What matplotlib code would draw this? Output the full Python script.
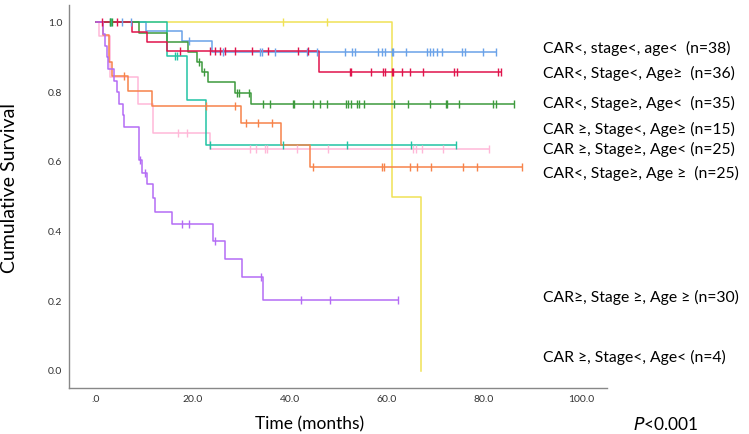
import numpy as np
import matplotlib.pyplot as plt

plt.rcParams['font.family'] = ['Lato', 'DejaVu Sans']

# cada grupo: tiempos donde baja la curva (meses), nivel despues de cada baja,
# tiempos censurados (marcas), y hasta donde llega la linea
azul_t = [10.3, 17.7, 24.0]
azul_s = [0.974, 0.947, 0.916]
azul_c = [5.3, 7.3, 19.2, 26.2, 33.8, 34.2, 36.9, 43.5, 45.5, 51.3, 52.7, 53.4,
          58.2, 58.9, 59.6, 61.0, 61.3, 63.9, 68.2, 68.9, 69.6, 70.3, 71.3,
          75.4, 76.1, 79.9, 82.6]

rojo_t = [7.4, 10.6, 14.7, 46.0]
rojo_s = [0.972, 0.944, 0.917, 0.859]
rojo_c = [1.3, 4.4, 17.3, 23.5, 24.5, 25.6, 26.6, 28.7, 32.1, 35.5, 41.7, 43.8,
          52.4, 52.6, 56.8, 59.1, 59.6, 61.0, 61.3, 63.2, 64.7, 67.4, 73.8,
          74.4, 82.9, 83.6]

verde_t = [8.9, 14.7, 18.9, 20.9, 21.8, 23.0, 28.7, 31.9]
verde_s = [0.971, 0.943, 0.914, 0.886, 0.857, 0.829, 0.798, 0.765]
verde_c = [2.9, 3.2, 21.2, 22.2, 29.0, 29.5, 31.5, 34.5, 35.9, 40.6, 40.8,
           44.8, 46.2, 47.6, 51.5, 52.0, 52.5, 53.9, 54.2, 55.3, 61.4, 64.4,
           68.9, 72.2, 72.4, 74.9, 81.9, 82.5, 86.3]

turq_t = [14.6, 18.7, 22.6]
turq_s = [0.904, 0.777, 0.648]
turq_c = [2.8, 3.1, 16.3, 16.8, 23.5, 38.5, 51.7, 64.9, 74.3]

rosa_t = [0.7, 2.9, 8.6, 11.7, 23.5]
rosa_s = [0.96, 0.844, 0.765, 0.683, 0.636]
rosa_c = [17.0, 18.7, 31.8, 33.1, 34.8, 35.2, 41.4, 47.9, 65.4, 66.1, 67.2,
          71.6, 81.1]

naranja_t = [1.4, 2.7, 3.4, 6.5, 11.6, 30.0, 38.2, 44.1]
naranja_s = [0.964, 0.886, 0.846, 0.804, 0.76, 0.712, 0.648, 0.584]
naranja_c = [5.8, 22.6, 28.7, 30.9, 33.5, 36.2, 44.8, 58.9, 59.4, 64.7, 66.2,
             69.0, 75.6, 78.6, 87.8]

violeta_t = [1.5, 1.8, 2.2, 2.5, 3.8, 4.3, 4.8, 5.5, 5.8, 8.9, 9.4, 10.6, 11.7,
             12.2, 15.7, 24.2, 26.6, 30.2, 34.5]
violeta_s = [0.967, 0.933, 0.9, 0.867, 0.833, 0.8, 0.767, 0.733, 0.70, 0.605,
             0.567, 0.535, 0.495, 0.456, 0.42, 0.373, 0.32, 0.268, 0.203]
violeta_c = [9.1, 10.1, 17.7, 19.1, 24.5, 34.0, 42.2, 48.2, 62.3]

amarillo_t = [61.0, 67.0]
amarillo_s = [0.5, 0.0]
amarillo_c = [38.5, 47.6]

etiquetas = ["CAR<, stage<, age<  (n=38)",
             "CAR<, Stage<, Age\u2265  (n=36)",
             "CAR<, Stage\u2265, Age<  (n=35)",
             "CAR \u2265, Stage<, Age\u2265 (n=15)",
             "CAR \u2265, Stage\u2265, Age< (n=25)",
             "CAR<, Stage\u2265, Age \u2265  (n=25)",
             "CAR\u2265, Stage \u2265, Age \u2265 (n=30)",
             "CAR \u2265, Stage<, Age< (n=4)"]
etiq_y = [48, 73, 103, 129, 149, 173, 297, 357]  # pixeles desde arriba

xticks = [0, 20, 40, 60, 80, 100]
xtick_lab = [".0", "20.0", "40.0", "60.0", "80.0", "100.0"]
yticks = [0.0, 0.2, 0.4, 0.6, 0.8, 1.0]


def curva(ax, t, s, c, color):
    fin = max(max(t), max(c))
    xs = [0] + t + [fin]
    ys = [1.0] + s + [s[-1]]
    ax.step(xs, ys, where='post', color=color, lw=1.1, zorder=2)
    idx = np.searchsorted(t, c, side='right')
    niveles = np.array([1.0] + s)[idx]
    ax.plot(c, niveles, ls='none', marker='|', ms=6, mew=1, color=color, zorder=3)


fig = plt.figure(figsize=(7.49, 4.34), dpi=100)
ax = fig.add_axes([69 / 749, 1 - 388.3 / 434, (607 - 69) / 749, (388.3 - 5) / 434])

curva(ax, rosa_t, rosa_s, rosa_c, "#ffb8d8")
curva(ax, amarillo_t, amarillo_s, amarillo_c, "#f0e256")
curva(ax, azul_t, azul_s, azul_c, "#6aa2e8")
curva(ax, turq_t, turq_s, turq_c, "#22c4a4")
curva(ax, naranja_t, naranja_s, naranja_c, "#f7834a")
curva(ax, verde_t, verde_s, verde_c, "#3d9a3d")
curva(ax, rojo_t, rojo_s, rojo_c, "#e0144c")
curva(ax, violeta_t, violeta_s, violeta_c, "#b46cf5")

ax.set_xlim(-5.57, 105.4)
ax.set_ylim(-0.0506, 1.05)
ax.set_xticks(xticks)
ax.set_xticklabels(xtick_lab)
ax.set_yticks(yticks)
ax.set_yticklabels(["%.1f" % v for v in yticks])
ax.tick_params(length=0, labelsize=7.5, labelcolor="#333333", pad=5)
for lado in ["top", "right"]:
    ax.spines[lado].set_visible(False)
for lado in ["left", "bottom"]:
    ax.spines[lado].set_color("#888888")
    ax.spines[lado].set_linewidth(1)

fig.text(10 / 749, 1 - 188 / 434, "Cumulative Survival", rotation=90,
         ha='center', va='center', fontsize=14)
fig.text(310 / 749, 1 - 424 / 434, "Time (months)", ha='center', va='center',
         fontsize=12.5)
fig.text(633 / 749, 1 - 425 / 434, "$\\it{P}$<0.001", ha='left', va='center',
         fontsize=12.5)

for lab, yy in zip(etiquetas, etiq_y):
    fig.text(543 / 749, 1 - yy / 434, lab, ha='left', va='center', fontsize=11.3)

fig.savefig("out.png", dpi=100)
